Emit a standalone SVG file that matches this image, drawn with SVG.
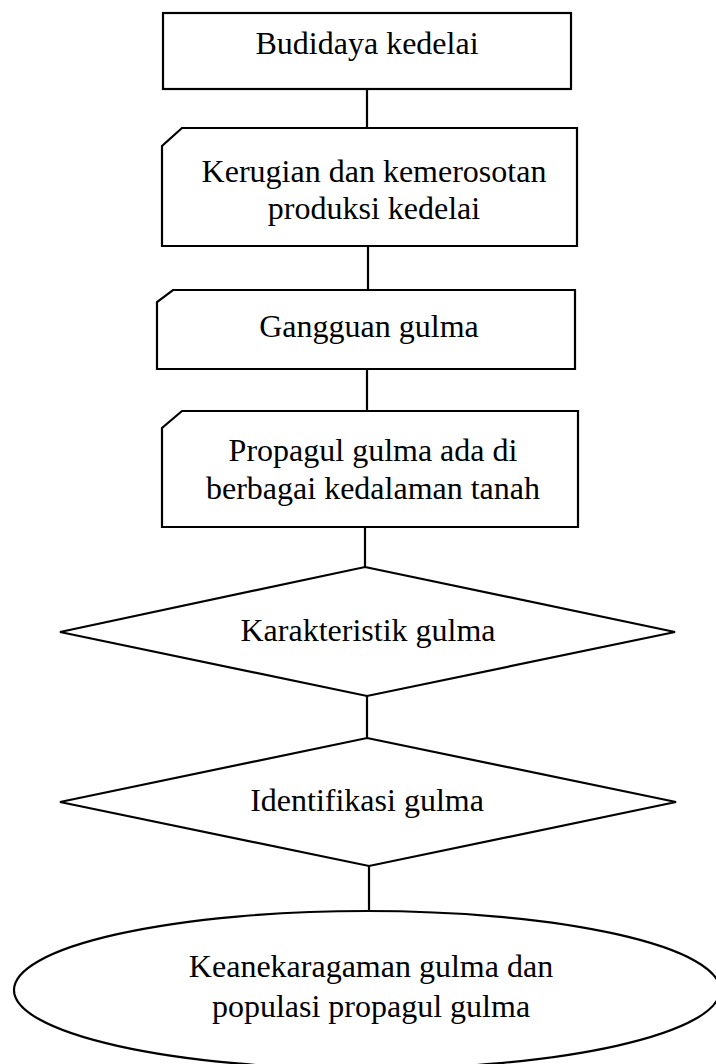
<svg xmlns="http://www.w3.org/2000/svg" width="716" height="1064" viewBox="0 0 716 1064">
<style>
.s{fill:#fff;stroke:#000;stroke-width:2.2}
.c{stroke:#000;stroke-width:2.2;fill:none}
.t{font-family:"Liberation Serif","Times New Roman",serif;font-size:32px;fill:#000;text-anchor:middle}
</style>
<rect width="716" height="1064" fill="#fff"/>
<g id="connectors">
<line class="c" x1="367" y1="89" x2="367" y2="128"/>
<line class="c" x1="368" y1="246" x2="368" y2="290"/>
<line class="c" x1="367" y1="369" x2="367" y2="411"/>
<line class="c" x1="365" y1="527" x2="365" y2="567"/>
<line class="c" x1="367" y1="696" x2="367" y2="738"/>
<line class="c" x1="369" y1="866" x2="369" y2="911"/>
</g>
<g id="n1">
<rect class="s" x="163" y="13" width="408" height="76"/>
<text class="t" x="367" y="54">Budidaya kedelai</text>
</g>
<g id="n2">
<path class="s" d="M182,128 H577 V246 H162 V146 Z"/>
<text class="t" x="374" y="182">Kerugian dan kemerosotan</text>
<text class="t" x="374" y="219">produksi kedelai</text>
</g>
<g id="n3">
<path class="s" d="M173,290 H575 V369 H157 V302 Z"/>
<text class="t" x="369" y="337">Gangguan gulma</text>
</g>
<g id="n4">
<path class="s" d="M182,411 H578 V527 H162 V428 Z"/>
<text class="t" x="373" y="461">Propagul gulma ada di</text>
<text class="t" x="373" y="499">berbagai kedalaman tanah</text>
</g>
<g id="n5">
<polygon class="s" points="365,567 675,632 367,696 60,632"/>
<text class="t" x="368" y="641">Karakteristik gulma</text>
</g>
<g id="n6">
<polygon class="s" points="367,738 676,802 369,866 60,802"/>
<text class="t" x="367" y="811">Identifikasi gulma</text>
</g>
<g id="n7">
<ellipse class="s" cx="367" cy="990" rx="353" ry="79"/>
<text class="t" x="371" y="977">Keanekaragaman gulma dan</text>
<text class="t" x="371" y="1017">populasi propagul gulma</text>
</g>
</svg>
